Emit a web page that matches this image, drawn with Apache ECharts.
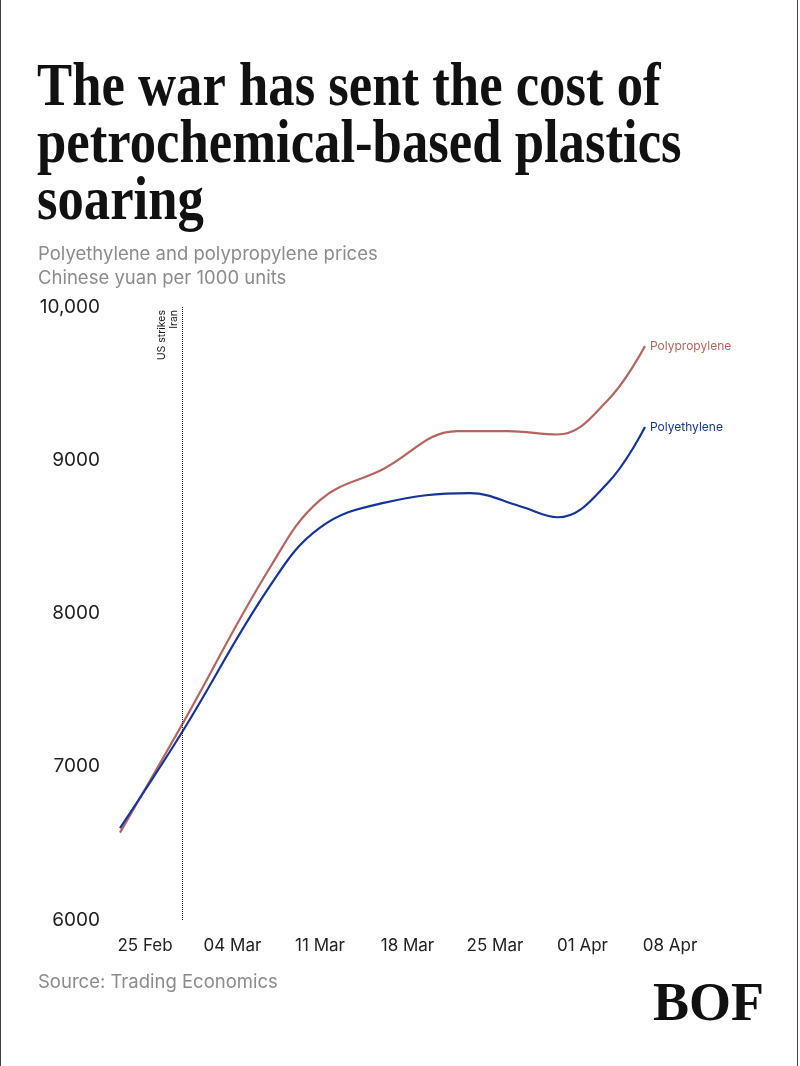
<!DOCTYPE html>
<html>
<head>
<meta charset="utf-8">
<title>Plastics prices</title>
<script src="https://cdn.jsdelivr.net/npm/echarts@6/dist/echarts.min.js"></script>
<style>
  html, body { margin: 0; padding: 0; background: #fff; }
  .wrap { position: relative; width: 800px; height: 1066px; }
  #chart { width: 800px; height: 1066px; }
  .frame {
    position: absolute; left: 0; top: 0; width: 798px; height: 1066px;
    border-left: 1px solid #444; border-right: 1px solid #444;
    box-sizing: border-box; pointer-events: none;
  }
</style>
</head>
<body>
<div class="wrap">
  <div id="chart"></div>
  <div class="frame"></div>
</div>
<script>
// days counted from 25 Feb
const ppDays = [-2, 3, 10, 14, 19, 25, 29, 33, 37, 40];
const polypropylene = [6570, 7280, 8300, 8740, 8940, 9190, 9190, 9168, 9390, 9745];
const peDays = [-2, 3, 10, 14, 19, 26, 30, 33, 37, 40];
const polyethylene = [6600, 7230, 8180, 8560, 8720, 8785, 8700, 8628, 8850, 9217];
const tickDays = [0, 7, 14, 21, 28, 35, 42];
const tickLabels = ['25 Feb', '04 Mar', '11 Mar', '18 Mar', '25 Mar', '01 Apr', '08 Apr'];
const strikeDay = 3;

const RED = '#b4665e';
const BLUE = '#16359a';
const SANS = 'Inter, "Noto Sans", sans-serif';

function pairs(xs, ys) {
  return xs.map((x, i) => [x, ys[i]]);
}

const chart = echarts.init(document.getElementById('chart'));

chart.setOption({
  animation: false,
  backgroundColor: '#fff',
  grid: { left: 107.5, right: 130, top: 307, bottom: 146 },
  xAxis: {
    type: 'value',
    min: -3,
    max: 42,
    axisLine: { show: false },
    axisTick: { show: false },
    splitLine: { show: false },
    axisLabel: {
      customValues: tickDays,
      margin: 17,
      fontFamily: SANS,
      fontSize: 17,
      color: '#222',
      formatter: function (v) {
        const i = tickDays.indexOf(v);
        return i >= 0 ? tickLabels[i] : '';
      }
    }
  },
  yAxis: {
    type: 'value',
    min: 6000,
    max: 10000,
    interval: 1000,
    axisLine: { show: false },
    axisTick: { show: false },
    splitLine: { show: false },
    axisLabel: {
      margin: 7.5,
      fontFamily: SANS,
      fontSize: 19,
      color: '#222',
      formatter: function (v) {
        return v === 10000 ? '10,000' : String(v);
      }
    }
  },
  series: [
    {
      name: 'Polypropylene',
      type: 'line',
      data: pairs(ppDays, polypropylene),
      smooth: 0.4,
      showSymbol: false,
      lineStyle: { color: RED, width: 2.2 },
      itemStyle: { color: RED },
      endLabel: {
        show: true,
        formatter: '{a}',
        color: RED,
        fontFamily: SANS,
        fontSize: 12,
        distance: 5
      },
      markLine: {
        silent: true,
        symbol: ['none', 'none'],
        lineStyle: { type: 'dotted', color: '#111', width: 1 },
        label: {
          show: true,
          position: 'insideEndTop',
          formatter: 'US strikes\nIran',
          fontFamily: SANS,
          fontSize: 10.5,
          lineHeight: 12,
          color: '#222',
          distance: 3
        },
        data: [{ xAxis: strikeDay }]
      }
    },
    {
      name: 'Polyethylene',
      type: 'line',
      data: pairs(peDays, polyethylene),
      smooth: 0.4,
      showSymbol: false,
      lineStyle: { color: BLUE, width: 2.2 },
      itemStyle: { color: BLUE },
      endLabel: {
        show: true,
        formatter: '{a}',
        color: BLUE,
        fontFamily: SANS,
        fontSize: 12,
        distance: 5
      }
    }
  ],
  graphic: [
    {
      type: 'text',
      x: 37,
      y: 60,
      scaleX: 0.85,
      style: {
        text: 'The war has sent the cost of\npetrochemical-based plastics\nsoaring',
        font: 'bold 62px "Liberation Serif", serif',
        fill: '#111',
        lineHeight: 57,
        verticalAlign: 'top'
      }
    },
    {
      type: 'text',
      x: 38,
      y: 242,
      style: {
        text: 'Polyethylene and polypropylene prices\nChinese yuan per 1000 units',
        font: '18.5px ' + SANS,
        fill: '#8c8c8c',
        lineHeight: 24,
        verticalAlign: 'top'
      }
    },
    {
      type: 'text',
      x: 38,
      y: 982,
      style: {
        text: 'Source: Trading Economics',
        font: '18.5px ' + SANS,
        fill: '#8c8c8c',
        verticalAlign: 'middle'
      }
    },
    {
      type: 'text',
      x: 653,
      y: 1006,
      style: {
        text: 'BOF',
        font: 'bold 54px "Liberation Serif", serif',
        fill: '#111',
        verticalAlign: 'middle'
      }
    }
  ]
});
</script>
</body>
</html>
